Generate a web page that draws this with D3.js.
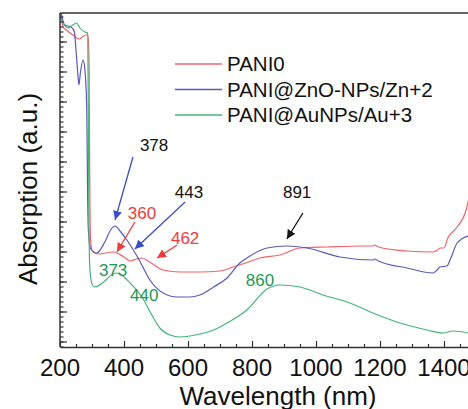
<!DOCTYPE html>
<html>
<head>
<meta charset="utf-8">
<script src="https://cdn.jsdelivr.net/npm/d3@7"></script>
<style>
  body { margin: 0; background: #fff; }
  svg { display: block; font-family: "Liberation Sans", Arial, sans-serif; }
</style>
</head>
<body>
<div id="chart"></div>
<script>
// --- Data (wavelength nm, absorption a.u.) ---
const PANI0 = [
  [200, 3.40], [210, 3.20], [220, 3.17], [240, 3.12], [260, 3.08], [280, 3.12], [288, 3.12],
  [291, 2.8], [293, 1.6], [296, 1.05], [303, 0.95], [320, 0.93], [366, 0.95], [400, 0.90],
  [419, 0.86], [440, 0.88], [456, 0.89], [480, 0.85], [522, 0.77], [575, 0.75], [637, 0.75],
  [700, 0.76], [741, 0.80], [780, 0.84], [825, 0.89], [887, 0.92], [950, 0.99], [1034, 1.00],
  [1150, 1.01], [1178, 1.01], [1184, 1.02], [1195, 1.00], [1284, 0.96], [1366, 0.95],
  [1380, 0.97], [1388, 0.99], [1400, 0.99], [1412, 1.09], [1441, 1.20], [1470, 1.38], [1480, 1.52]
];
const PANI_ZN = [
  [200, 3.40], [215, 3.22], [235, 3.20], [245, 3.15], [250, 2.97], [256, 2.72], [259, 2.62],
  [264, 2.75], [272, 2.87], [277, 2.80], [281, 2.62], [284, 2.3], [286, 1.6], [289, 1.15],
  [296, 0.98], [315, 0.94], [340, 1.05], [360, 1.18], [372, 1.21], [390, 1.15], [409, 1.07],
  [444, 0.89], [481, 0.67], [522, 0.54], [566, 0.50], [606, 0.50], [637, 0.52], [680, 0.60],
  [722, 0.69], [762, 0.84], [784, 0.89], [847, 0.99], [909, 1.01], [972, 0.99], [1075, 0.90],
  [1178, 0.87], [1184, 0.88], [1195, 0.86], [1284, 0.79], [1366, 0.74], [1378, 0.77],
  [1388, 0.80], [1409, 0.81], [1419, 0.87], [1441, 1.04], [1475, 1.11]
];
const PANI_AU = [
  [200, 3.29], [225, 3.19], [240, 3.22], [252, 3.24], [262, 3.19], [278, 3.15], [286, 3.14],
  [288, 2.6], [290, 1.4], [293, 0.80], [300, 0.63], [309, 0.60], [340, 0.66], [365, 0.73],
  [378, 0.74], [400, 0.70], [419, 0.64], [456, 0.50], [487, 0.32], [512, 0.19], [544, 0.12],
  [575, 0.10], [637, 0.13], [680, 0.17], [722, 0.24], [784, 0.37], [847, 0.58], [887, 0.62],
  [950, 0.60], [1022, 0.52], [1106, 0.44], [1178, 0.34], [1262, 0.24], [1347, 0.17],
  [1397, 0.14], [1428, 0.16], [1475, 0.14]
];

const SERIES = [
  { name: 'PANI0', values: PANI0, color: '#f2636b' },
  { name: 'PANI@ZnO-NPs/Zn+2', values: PANI_ZN, color: '#5a5ab8' },
  { name: 'PANI@AuNPs/Au+3', values: PANI_AU, color: '#45b577' }
];

const X_TICKS = [200, 400, 600, 800, 1000, 1200, 1400];

// peak annotations: text position, optional arrow (from -> to)
const LABELS = [
  { text: '378', at: [494, 2.02], color: '#111', arrow: [[428, 1.90], [372, 1.27]], arrowColor: '#3b4fc4' },
  { text: '443', at: [603, 1.55], color: '#111', arrow: [[591, 1.45], [434, 0.98]], arrowColor: '#3b4fc4' },
  { text: '360', at: [456, 1.34], color: '#ee3b3b', arrow: [[434, 1.25], [378, 0.95]], arrowColor: '#ee3b3b' },
  { text: '462', at: [591, 1.09], color: '#ee3b3b', arrow: [[566, 1.02], [503, 0.89]], arrowColor: '#ee3b3b' },
  { text: '373', at: [366, 0.77], color: '#1c9a55' },
  { text: '440', at: [463, 0.52], color: '#1c9a55' },
  { text: '860', at: [825, 0.67], color: '#1c9a55' },
  { text: '891', at: [941, 1.55], color: '#111', arrow: [[959, 1.34], [909, 1.08]], arrowColor: '#111' }
];

const W = 468, H = 409;
const margin = { top: 13, left: 60, bottom: 62 };
const plotRight = 476;

const svg = d3.select('#chart').append('svg')
  .attr('width', W)
  .attr('height', H);

const x = d3.scaleLinear().domain([200, 1500]).range([margin.left, plotRight]);
const y = d3.scaleLinear().domain([0, 3.34]).range([H - margin.bottom, margin.top]);

// clip region for curves
svg.append('clipPath').attr('id', 'plot-clip')
  .append('rect')
  .attr('x', margin.left).attr('y', margin.top)
  .attr('width', plotRight - margin.left)
  .attr('height', y(0) - margin.top);

// --- Curves ---
const line = d3.line()
  .x(d => x(d[0]))
  .y(d => y(d[1]))
  .curve(d3.curveMonotoneX);

svg.append('g').attr('clip-path', 'url(#plot-clip)')
  .selectAll('path')
  .data(SERIES)
  .enter().append('path')
  .attr('d', d => line(d.values))
  .attr('fill', 'none')
  .attr('stroke', d => d.color)
  .attr('stroke-width', 1.2);

// --- Axes (ticks pointing inward) ---
const axisColor = '#333';

const xAxis = svg.append('g').attr('transform', `translate(0,${y(0)})`);
xAxis.call(d3.axisBottom(x).tickValues(d3.range(200, 1501, 50)).tickSizeInner(-3).tickSizeOuter(0).tickFormat(''));
xAxis.call(g => g.selectAll('.tick line')
  .filter(d => d % 200 === 0).attr('y2', -6));
xAxis.select('.domain').attr('stroke', axisColor).attr('stroke-width', 1.5);
xAxis.selectAll('.tick line').attr('stroke', axisColor).attr('stroke-width', 1.2);

svg.append('g')
  .selectAll('text')
  .data(X_TICKS)
  .enter().append('text')
  .attr('x', d => x(d))
  .attr('y', 376)
  .attr('text-anchor', 'middle')
  .attr('font-size', '24px')
  .attr('fill', '#111')
  .text(d => d);

const yMajor = d3.range(0.05, 3.3, 0.3);
const yMinor = d3.range(0, 3.34, 0.05);
const yAxis = svg.append('g').attr('transform', `translate(${margin.left},0)`);
yAxis.selectAll('line.minor')
  .data(yMinor)
  .enter().append('line')
  .attr('class', 'minor')
  .attr('x1', 0).attr('x2', 3.5)
  .attr('y1', d => y(d)).attr('y2', d => y(d))
  .attr('stroke', axisColor).attr('stroke-width', 1.2);
yAxis.selectAll('line.major')
  .data(yMajor)
  .enter().append('line')
  .attr('class', 'major')
  .attr('x1', 0).attr('x2', 7)
  .attr('y1', d => y(d)).attr('y2', d => y(d))
  .attr('stroke', axisColor).attr('stroke-width', 1.2);
yAxis.append('line')
  .attr('x1', 0).attr('x2', 0)
  .attr('y1', y(0)).attr('y2', margin.top)
  .attr('stroke', axisColor).attr('stroke-width', 1.5);

// top frame line
svg.append('line')
  .attr('x1', margin.left).attr('x2', plotRight)
  .attr('y1', margin.top).attr('y2', margin.top)
  .attr('stroke', axisColor).attr('stroke-width', 1.5);

// --- Axis labels ---
svg.append('text')
  .attr('x', 278)
  .attr('y', 405)
  .attr('text-anchor', 'middle')
  .attr('font-size', '26px')
  .attr('fill', '#111')
  .text('Wavelength (nm)');

svg.append('text')
  .attr('transform', 'translate(37,189) rotate(-90)')
  .attr('text-anchor', 'middle')
  .attr('font-size', '26px')
  .attr('fill', '#111')
  .text('Absorption (a.u.)');

// --- Legend ---
const legend = svg.append('g').attr('transform', 'translate(175,64)');
SERIES.forEach((s, i) => {
  const g = legend.append('g').attr('transform', `translate(0,${i * 25.5})`);
  g.append('line')
    .attr('x1', 0).attr('x2', 47)
    .attr('stroke', s.color).attr('stroke-width', 1.3);
  g.append('text')
    .attr('x', 52)
    .attr('dy', '0.35em')
    .attr('font-size', '20.5px')
    .attr('fill', '#111')
    .text(s.name);
});

// --- Annotations ---
const defs = svg.append('defs');
const markerColors = Array.from(new Set(LABELS.filter(d => d.arrow).map(d => d.arrowColor)));
markerColors.forEach((c, i) => {
  defs.append('marker')
    .attr('id', 'arrow' + i)
    .attr('viewBox', '0 0 10 10')
    .attr('refX', 10).attr('refY', 5)
    .attr('markerWidth', 9).attr('markerHeight', 9)
    .attr('markerUnits', 'userSpaceOnUse')
    .attr('orient', 'auto')
    .append('path')
    .attr('d', 'M0,0 L10,5 L0,10 Z')
    .attr('fill', c);
});

LABELS.forEach(lab => {
  if (lab.arrow) {
    const [from, to] = lab.arrow;
    svg.append('line')
      .attr('x1', x(from[0])).attr('y1', y(from[1]))
      .attr('x2', x(to[0])).attr('y2', y(to[1]))
      .attr('stroke', lab.arrowColor)
      .attr('stroke-width', 1.3)
      .attr('marker-end', `url(#arrow${markerColors.indexOf(lab.arrowColor)})`);
  }
  svg.append('text')
    .attr('x', x(lab.at[0]))
    .attr('y', y(lab.at[1]))
    .attr('dy', '0.35em')
    .attr('text-anchor', 'middle')
    .attr('font-size', '17px')
    .attr('fill', lab.color)
    .text(lab.text);
});
</script>
</body>
</html>
